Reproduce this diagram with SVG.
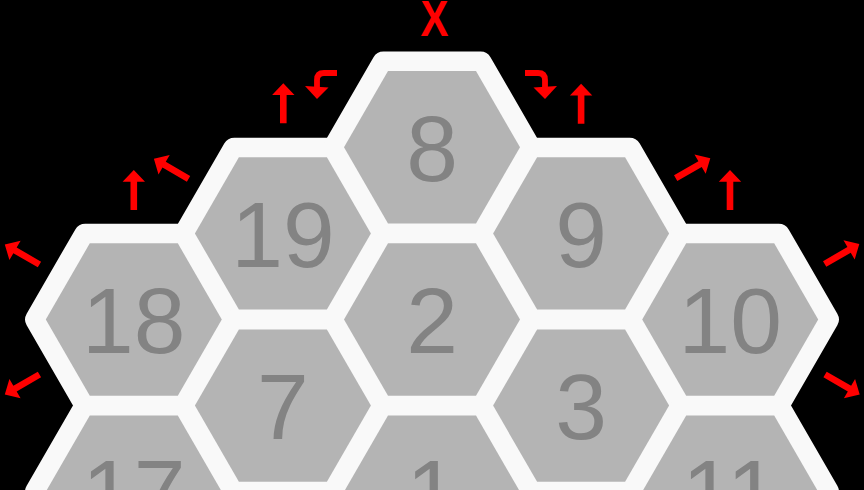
<svg xmlns="http://www.w3.org/2000/svg" xmlns:xlink="http://www.w3.org/1999/xlink" width="864" height="490" viewBox="0 0 864 490">
  <style>
    .bg { fill: #f9f9f9; stroke: #f9f9f9; stroke-width: 23.4; stroke-linejoin: round; }
    .cell { fill: #b4b4b4; }
    .num { font-family: "Liberation Sans", Arial, sans-serif; font-size: 93px; fill: #838383; text-anchor: middle; }
    .arrow { fill: #ff0000; }
    .bend { fill: none; stroke: #ff0000; stroke-width: 5.8; }
    .blocked { font-family: "Liberation Sans", Arial, sans-serif; font-size: 50px; font-weight: bold; fill: #ff0000; text-anchor: middle; }
  </style>
  <defs>
    <polygon id="hexW" points="97,0 48.5,84 -48.5,84 -97,0 -48.5,-84 48.5,-84"/>
    <polygon id="hexG" points="88,0 44,76.21 -44,76.21 -88,0 -44,-76.21 44,-76.21"/>
    <polygon id="arr" points="0,0 11.2,11.8 3.3,11.8 3.3,40 -3.3,40 -3.3,11.8 -11.2,11.8"/>
  </defs>
  <rect x="0" y="0" width="864" height="490" fill="#000000"/>

  <g id="board">
    <use href="#hexW" class="bg" transform="translate(133.8,319.5)"/>
    <use href="#hexW" class="bg" transform="translate(133.8,491.7)"/>
    <use href="#hexW" class="bg" transform="translate(282.9,233.4)"/>
    <use href="#hexW" class="bg" transform="translate(282.9,405.6)"/>
    <use href="#hexW" class="bg" transform="translate(432,147.3)"/>
    <use href="#hexW" class="bg" transform="translate(432,319.5)"/>
    <use href="#hexW" class="bg" transform="translate(432,491.7)"/>
    <use href="#hexW" class="bg" transform="translate(581.1,233.4)"/>
    <use href="#hexW" class="bg" transform="translate(581.1,405.6)"/>
    <use href="#hexW" class="bg" transform="translate(730.2,319.5)"/>
    <use href="#hexW" class="bg" transform="translate(730.2,491.7)"/>
  </g>

  <g id="cell-18"><use href="#hexG" class="cell" transform="translate(133.8,319.5)"/><text class="num" x="133.8" y="352.9">18</text></g>
  <g id="cell-17"><use href="#hexG" class="cell" transform="translate(133.8,491.7)"/><text class="num" x="133.8" y="525.1">17</text></g>
  <g id="cell-19"><use href="#hexG" class="cell" transform="translate(282.9,233.4)"/><text class="num" x="282.9" y="266.8">19</text></g>
  <g id="cell-7"><use href="#hexG" class="cell" transform="translate(282.9,405.6)"/><text class="num" x="282.9" y="439">7</text></g>
  <g id="cell-8"><use href="#hexG" class="cell" transform="translate(432,147.3)"/><text class="num" x="432" y="180.7">8</text></g>
  <g id="cell-2"><use href="#hexG" class="cell" transform="translate(432,319.5)"/><text class="num" x="432" y="352.9">2</text></g>
  <g id="cell-1"><use href="#hexG" class="cell" transform="translate(432,491.7)"/><text class="num" x="432" y="525.1">1</text></g>
  <g id="cell-9"><use href="#hexG" class="cell" transform="translate(581.1,233.4)"/><text class="num" x="581.1" y="266.8">9</text></g>
  <g id="cell-3"><use href="#hexG" class="cell" transform="translate(581.1,405.6)"/><text class="num" x="581.1" y="439">3</text></g>
  <g id="cell-10"><use href="#hexG" class="cell" transform="translate(730.2,319.5)"/><text class="num" x="730.2" y="352.9">10</text></g>
  <g id="cell-11"><use href="#hexG" class="cell" transform="translate(730.2,491.7)"/><text class="num" x="730.2" y="525.1">11</text></g>

  <g id="connectors">
    <use href="#arr" class="arrow" transform="translate(133.8,170)"/>
    <use href="#arr" class="arrow" transform="translate(4.8,244.5) rotate(-60)"/>
    <use href="#arr" class="arrow" transform="translate(4.8,394.5) rotate(-120)"/>
    <use href="#arr" class="arrow" transform="translate(283.3,83.2)"/>
    <use href="#arr" class="arrow" transform="translate(153.9,158.8) rotate(-60)"/>
    <use href="#arr" class="arrow" transform="translate(581.1,83.8)"/>
    <use href="#arr" class="arrow" transform="translate(710.3,158.2) rotate(60)"/>
    <use href="#arr" class="arrow" transform="translate(730,170)"/>
    <use href="#arr" class="arrow" transform="translate(859.3,244) rotate(60)"/>
    <use href="#arr" class="arrow" transform="translate(859.7,394.5) rotate(120)"/>
    <path class="bend" d="M337,73 H324 Q317,73 317,80 V88"/>
    <polygon class="arrow" points="305,86 328.5,87.5 317,99"/>
    <path class="bend" d="M525,73 H538 Q545,73 545,80 V88"/>
    <polygon class="arrow" points="533.5,87.5 557,86 545,99"/>
    <text class="blocked" x="434.5" y="36" textLength="28" lengthAdjust="spacingAndGlyphs">X</text>
  </g>
</svg>
